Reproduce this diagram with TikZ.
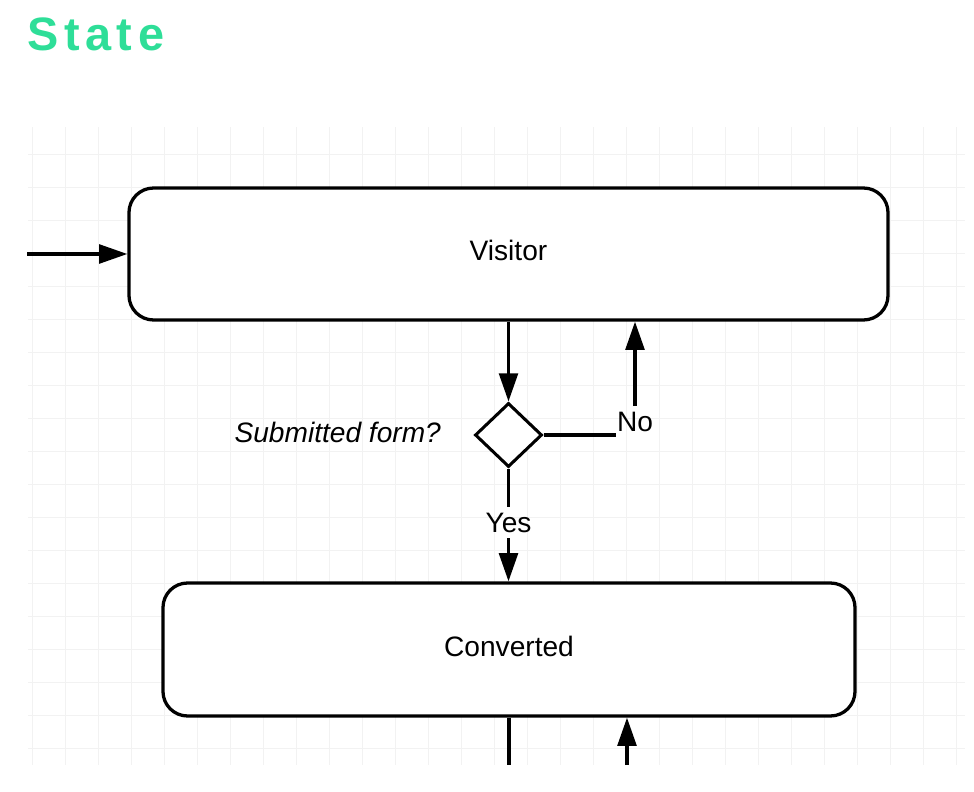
\documentclass[tikz,border=0pt]{standalone}
\usepackage{fontspec}
\setmainfont{Liberation Sans}
\usetikzlibrary{positioning,shapes.geometric,arrows.meta}
\definecolor{titlegreen}{RGB}{46,222,152}
\definecolor{gridgray}{RGB}{242,242,242}

\begin{document}
\begin{tikzpicture}[x=0.03cm, y=-0.03cm,
    gridline/.style={draw=gridgray, line width=0.8pt},
    state/.style={draw, line width=2.8pt, rounded corners=21pt, fill=white, text depth=6pt, font=\fontsize{24}{28}\selectfont},
    decisionbox/.style={draw, diamond, line width=2.6pt, fill=white, inner sep=0pt},
    wire/.style={line width=2.7pt},
    flow/.style={line width=2.7pt, -{Triangle[length=24pt,width=16pt]}},
    edgelabel/.style={inner xsep=1pt, inner ysep=5pt, font=\fontsize{24}{28}\selectfont},
    question/.style={font=\fontsize{24}{28}\selectfont\itshape}]
            \useasboundingbox (0,0) rectangle (974,792);
            % Draw grid
            \foreach \x in {32,65,...,965} {
                \draw[gridline] (\x,127) -- (\x,765);
            }
            \foreach \y in {154,187,...,765} {
                \draw[gridline] (28,\y) -- (965,\y);
            }
            % Title
            \node[anchor=base west, inner sep=0pt, text=titlegreen,
                  font=\fontsize{40}{44}\selectfont\bfseries\addfontfeature{LetterSpace=12}] (title) at (27,51) {State};

            % States
            \node[state, minimum width=22.77cm, minimum height=3.96cm] (visitor) at (508.5,254) {Visitor};
            \node[state, minimum width=20.76cm, minimum height=3.99cm] (converted) at (509,649.5) {Converted};
            \node[decisionbox, minimum width=2.01cm, minimum height=1.92cm] (decision) at (508.5,435) {};
            \node[question, anchor=base east] (ask) at (445,442) {Submitted form?};

            % Labels on the branches
            \node[edgelabel] (nolabel) at (635,422) {No};
            \node[edgelabel] (yeslabel) at (508.5,522.5) {Yes};

            % Connectors
            \coordinate (start) at (27,254);
            \draw[flow] (start) -- (visitor.west); % entry
            \draw[flow] (visitor.south) -- (decision.north);
            \draw[wire] (decision.east) -- (decision.east -| nolabel.west); % no branch
            \draw[flow] (nolabel.north) -- (nolabel.north |- visitor.south);
            \draw[wire] (decision.south) -- (yeslabel.north); % yes branch
            \draw[flow] (yeslabel.south) -- (yeslabel.south |- converted.north);

            % Stubs leaving the picture
            \coordinate (leave) at (509,765);
            \coordinate (enter) at (627,765);
            \draw[wire] (converted.south) -- (converted.south |- leave);
            \draw[flow] (enter) -- (enter |- converted.south);
        \end{tikzpicture}
\end{document}
